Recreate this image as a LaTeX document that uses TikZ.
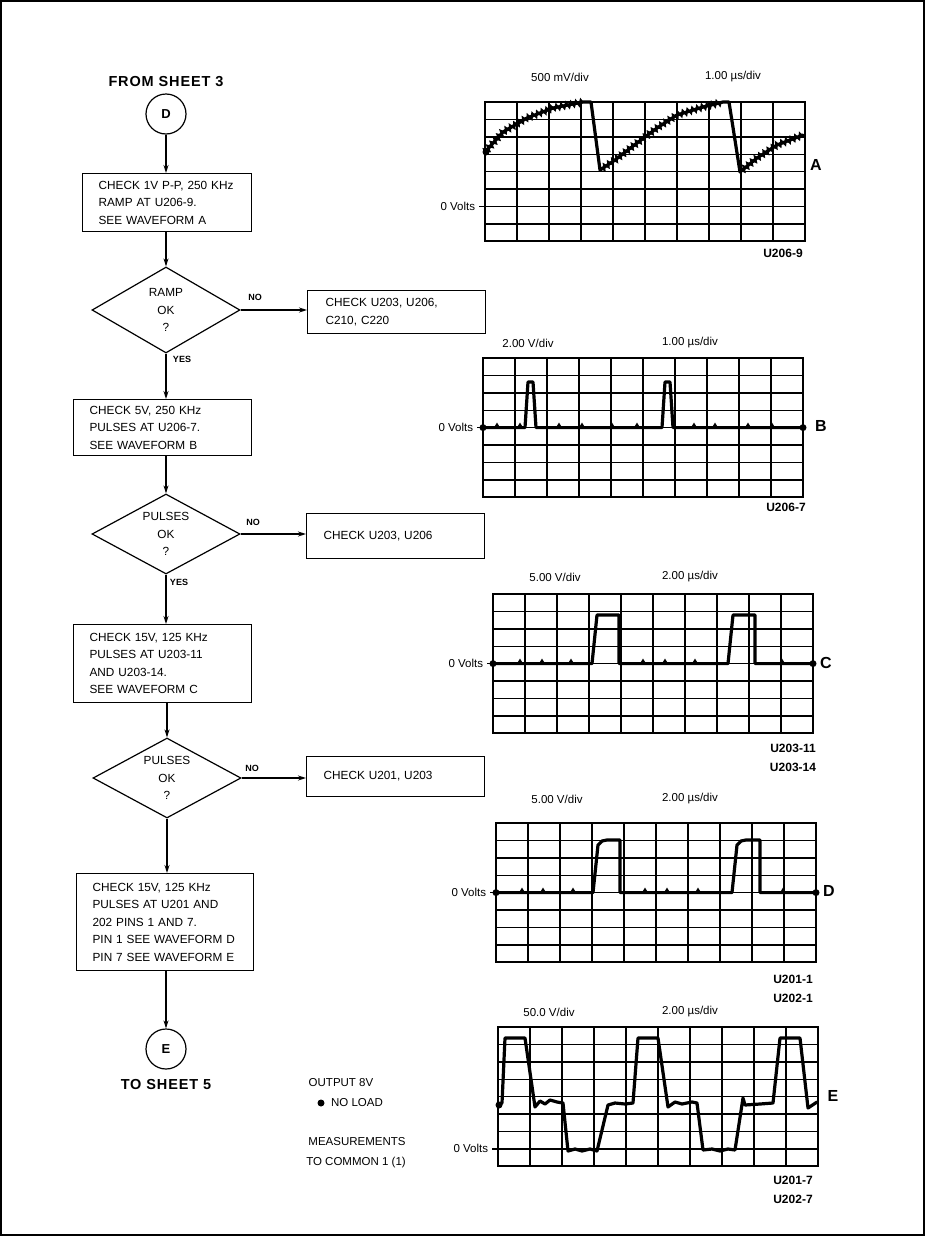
\documentclass[tikz,border=0pt]{standalone}
\usepackage{fontspec}
\setmainfont{Liberation Sans}
\newfontfamily\widefont[LetterSpace=6]{Liberation Sans}
\usepackage{tikz}
\usetikzlibrary{arrows.meta,shapes.geometric,decorations.pathmorphing}

% one scope screen: 10 x 8 divisions
\newcommand{\screengrid}{%
  \foreach \i in {1,...,9} \draw[gridln] (\i*32,0) -- (\i*32,139.2);
  \foreach \j in {1,...,7} \draw[gridln] (0,\j*17.4) -- (320,\j*17.4);
  \draw[gridframe] (0,0) rectangle (320,139.2);}

\begin{document}
\begin{tikzpicture}[x=1pt, y=-1pt, >={Stealth[length=8pt,width=5pt]}, line width=1.2pt,
  txt/.style={font=\fontsize{11.8}{17.5}\selectfont},
  chkbox/.style={draw, anchor=north west, align=left, inner xsep=16pt, inner ysep=0pt, txt},
  askbox/.style={draw, diamond, aspect=2, align=center, inner sep=0pt, minimum width=148pt, minimum height=80pt, txt},
  link/.style={draw, circle, minimum size=40pt, inner sep=0pt, font=\fontsize{13}{15}\selectfont\bfseries},
  sheet/.style={font=\widefont\fontsize{14.5}{16}\selectfont\bfseries},
  ans/.style={font=\fontsize{9}{11}\selectfont\bfseries},
  scl/.style={font=\fontsize{11.5}{13}\selectfont},
  pin/.style={font=\fontsize{12}{18.5}\selectfont\bfseries, align=center},
  tag/.style={font=\fontsize{16}{18}\selectfont\bfseries},
  gridln/.style={line width=1.4pt},
  gridframe/.style={line width=2.2pt},
  trace/.style={line width=3.2pt, line join=round, line cap=round},
  jag/.style={line width=2pt, decorate, decoration={zigzag, segment length=5pt, amplitude=2.5pt}}]
\useasboundingbox (0,0) rectangle (926,1237);
% cadre
\draw[line width=1.5pt] (1,1) rectangle (924,1235);

% organigramme
\node[sheet] (from) at (166,82) {FROM SHEET 3};
\node[link] (cD) at (166,114) {D};
\node[chkbox, text width=137pt, minimum height=58pt] (chkramp) at (82,173) {CHECK 1V P-P, 250 KHz\\RAMP AT U206-9.\\SEE WAVEFORM A};
\node[askbox, minimum height=86pt] (rampok) at (166,310) {RAMP\\OK\\?};
\node[chkbox, inner xsep=18pt, text width=142pt, minimum height=43pt] (fixramp) at (307,290) {CHECK U203, U206,\\C210, C220};
\node[chkbox, text width=146pt, minimum height=56pt] (chkpulse) at (73,399) {CHECK 5V, 250 KHz\\PULSES AT U206-7.\\SEE WAVEFORM B};
\node[askbox] (pulseok) at (166,534) {PULSES\\OK\\?};
\node[chkbox, inner xsep=17pt, text width=144pt, minimum height=45pt] (fixpulse) at (306,513) {CHECK U203, U206};
\node[chkbox, text width=146pt, minimum height=78pt] (chkgate) at (73,624) {CHECK 15V, 125 KHz\\PULSES AT U203-11\\AND U203-14.\\SEE WAVEFORM C};
\node[askbox] (gateok) at (167,778) {PULSES\\OK\\?};
\node[chkbox, inner xsep=17pt, text width=144pt, minimum height=40pt] (fixgate) at (306,756) {CHECK U201, U203};
\node[chkbox, text width=145pt, minimum height=97pt] (chkdrive) at (76,873) {CHECK 15V, 125 KHz\\PULSES AT U201 AND\\202 PINS 1 AND 7.\\PIN 1 SEE WAVEFORM D\\PIN 7 SEE WAVEFORM E};
\node[link] (cE) at (166,1049) {E};
\node[sheet] (to) at (166,1084) {TO SHEET 5};

\draw[->] (cD) -- (chkramp.north -| cD);
\draw[->] (chkramp.south -| rampok) -- (rampok.north);
\draw[->] (rampok.east) -- (fixramp.west |- rampok.east);
\draw[->] (rampok.south) -- (chkpulse.north -| rampok);
\draw[->] (chkpulse.south -| pulseok) -- (pulseok.north);
\draw[->] (pulseok.east) -- (fixpulse.west |- pulseok.east);
\draw[->] (pulseok.south) -- (chkgate.north -| pulseok);
\draw[->] (chkgate.south -| gateok) -- (gateok.north);
\draw[->] (gateok.east) -- (fixgate.west |- gateok.east);
\draw[->] (gateok.south) -- (chkdrive.north -| gateok);
\draw[->] (chkdrive.south -| cE) -- (cE);

\node[ans] (no1) at (255,297) {NO};
\node[ans] (yes1) at (182,359) {YES};
\node[ans] (no2) at (253,522) {NO};
\node[ans] (yes2) at (179,582) {YES};
\node[ans] (no3) at (252,768) {NO};

% notes
\node[scl] (outv) at (341,1083) {OUTPUT 8V};
\fill (321,1103) circle (3.5);
\node[scl] (noload) at (357,1103) {NO LOAD};
\node[scl] (meas) at (357,1142) {MEASUREMENTS};
\node[scl] (common) at (356,1163) {TO COMMON 1 (1)};

% forme d'onde A
\begin{scope}[shift={(485,102)}]
\screengrid
\node[scl] (vdivA) at (75,-25) {500 mV/div};
\node[scl] (tdivA) at (248,-25) {1.00 µs/div};
\node[scl, anchor=east] (zeroA) at (-6,104.4) {0 Volts};
\draw[gridln] (zeroA.east) -- (0,104.4);
\node[tag] (tagA) at (331,63) {A};
\node[pin] (pinA) at (298,151) {U206-9};
\draw[trace] (0,50) -- (18,30) -- (42,16) -- (68,6) -- (98,0) -- (106,0) -- (115,68)
  -- (130,58) -- (152,41) -- (172,26) -- (192,13) -- (218,5) -- (238,0) -- (244,0) -- (255,70)
  -- (272,56) -- (292,43) -- (318,33);
\draw[jag] (0,50) -- (18,30) -- (42,16) -- (68,6) -- (98,0);
\draw[jag] (115,68) -- (130,58) -- (152,41) -- (172,26) -- (192,13) -- (218,5) -- (238,0);
\draw[jag] (255,70) -- (272,56) -- (292,43) -- (318,33);
\fill (1,50) circle (3.5);
\end{scope}

% forme d'onde B
\begin{scope}[shift={(483,358)}]
\screengrid
\node[scl] (vdivB) at (45,-15) {2.00 V/div};
\node[scl] (tdivB) at (207,-15) {1.00 µs/div};
\node[scl, anchor=east] (zeroB) at (-6,69.6) {0 Volts};
\draw[gridln] (zeroB.east) -- (0,69.6);
\node[tag] (tagB) at (338,68) {B};
\node[pin] (pinB) at (303,149) {U206-7};
\draw[trace] (0,69.6) -- (42,69.6) -- (45,24) -- (50,24) -- (53,69.6) -- (179,69.6) -- (182,24) -- (187,24) -- (190,69.6) -- (320,69.6);
\foreach \bx in {14,37,76,99,129,154,211,232,265,289}
  \fill (\bx-3,69.6) -- (\bx,64.5) -- (\bx+3,69.6) -- cycle;
\fill (0,69.6) circle (3.5); \fill (320,69.6) circle (3.5);
\end{scope}

% forme d'onde C
\begin{scope}[shift={(493,594)}]
\screengrid
\node[scl] (vdivC) at (62,-17) {5.00 V/div};
\node[scl] (tdivC) at (197,-17) {2.00 µs/div};
\node[scl, anchor=east] (zeroC) at (-6,69.6) {0 Volts};
\draw[gridln] (zeroC.east) -- (0,69.6);
\node[tag] (tagC) at (333,69) {C};
\node[pin] (pinC) at (300,164) {U203-11\\U203-14};
\draw[trace] (0,69.6) -- (99,69.6) -- (104,21) -- (126,21) -- (126,69.6) -- (235,69.6) -- (240,21) -- (262,21) -- (262,69.6) -- (320,69.6);
\foreach \bx in {27,49,78,150,172,202,289}
  \fill (\bx-3,69.6) -- (\bx,64.5) -- (\bx+3,69.6) -- cycle;
\fill (0,69.6) circle (3.5); \fill (320,69.6) circle (3.5);
\end{scope}

% forme d'onde D
\begin{scope}[shift={(496,823)}]
\screengrid
\node[scl] (vdivD) at (61,-24) {5.00 V/div};
\node[scl] (tdivD) at (194,-24) {2.00 µs/div};
\node[scl, anchor=east] (zeroD) at (-6,69.6) {0 Volts};
\draw[gridln] (zeroD.east) -- (0,69.6);
\node[tag] (tagD) at (333,68) {D};
\node[pin] (pinD) at (297,166) {U201-1\\U202-1};
\draw[trace] (0,69.6) -- (97,69.6) -- (102,22) -- (106,18) -- (111,17) -- (124,17) -- (124,69.6) -- (236,69.6) -- (241,22) -- (245,18) -- (250,17) -- (264,17) -- (264,69.6) -- (320,69.6);
\foreach \bx in {26,47,77,149,171,202,287}
  \fill (\bx-3,69.6) -- (\bx,64.5) -- (\bx+3,69.6) -- cycle;
\fill (0,69.6) circle (3.5); \fill (320,69.6) circle (3.5);
\end{scope}

% forme d'onde E
\begin{scope}[shift={(498,1027)}]
\screengrid
\node[scl] (vdivE) at (51,-15) {50.0 V/div};
\node[scl] (tdivE) at (192,-15) {2.00 µs/div};
\node[scl, anchor=east] (zeroE) at (-6,121.8) {0 Volts};
\draw[gridln] (zeroE.east) -- (0,121.8);
\node[tag] (tagE) at (335,69) {E};
\node[pin] (pinE) at (295,163) {U201-7\\U202-7};
\draw[trace] (0,78) -- (4,76) -- (7,11) -- (27,11) -- (37,80) -- (42,74) -- (47,77) -- (52,73) -- (59,75) -- (65,76)
  -- (70,124) -- (77,122) -- (84,124) -- (92,122) -- (99,124) -- (110,78) -- (117,76) -- (127,77) -- (135,76)
  -- (140,11) -- (160,11) -- (170,80) -- (177,75) -- (184,77) -- (194,75) -- (199,76) -- (205,123)
  -- (214,122) -- (222,124) -- (230,122) -- (237,123) -- (245,71) -- (247,78) -- (262,77) -- (275,76)
  -- (282,11) -- (302,11) -- (310,81) -- (319,75);
\fill (1,78) circle (3.5);
\end{scope}
\end{tikzpicture}
\end{document}
